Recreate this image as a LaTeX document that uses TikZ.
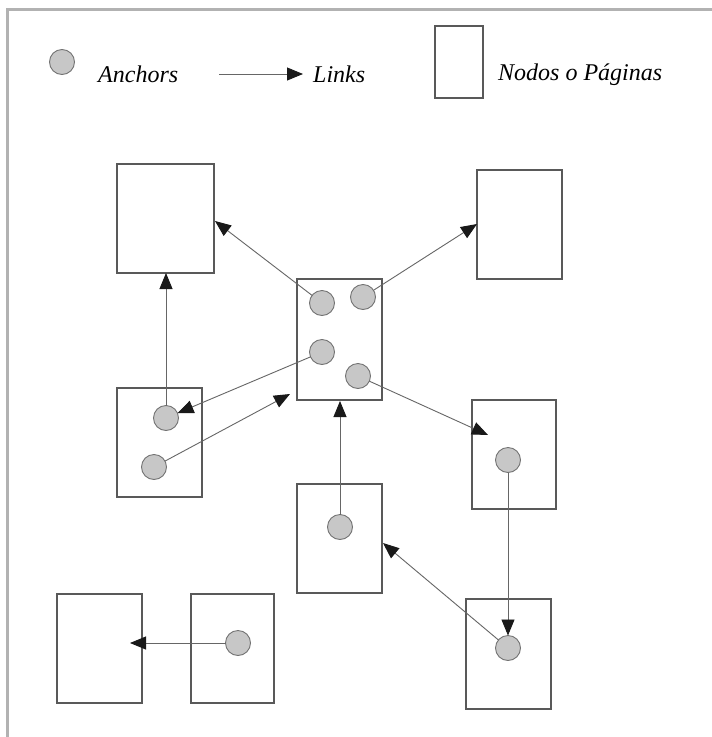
\documentclass[tikz,border=0pt]{standalone}
\usepackage{fontspec}
\setmainfont{Liberation Serif}
\usetikzlibrary{arrows.meta}
\begin{document}
\begin{tikzpicture}[x=1pt,y=-1pt,
  page/.style={draw=black!65, line width=1.1pt, fill=white, inner sep=0pt, outer sep=0pt},
  anc/.style={circle, draw=black!55, line width=0.9pt, fill=black!22, minimum size=25pt, inner sep=0pt, outer sep=0pt},
  lnk/.style={draw=black!60, line width=0.9pt, -{Triangle[length=16pt,width=13pt,color=black!90]}},
  lbl/.style={font=\itshape\fontsize{24}{28}\selectfont, anchor=base west, inner sep=0pt}]
\useasboundingbox (0,0) rectangle (712,737);
\fill[white] (0,0) rectangle (712,737);
% frame (top and left)
\draw[black!30, line width=3pt] (7,737) -- (7,9) -- (712,9);

% legend
\node[anc] (lganc) at (62,62) {};
\node[lbl] (lgt1) at (98,82) {Anchors};
\coordinate (lga) at (219,74);
\coordinate (lgb) at (303,74);
\draw[lnk] (lga) -- (lgb);
\node[lbl] (lgt2) at (313,82) {Links};
\node[page, minimum width=48pt, minimum height=72pt] (lgbox) at (459,62) {};
\node[lbl] (lgt3) at (498,80) {Nodos o Páginas};

% pages
\node[page, minimum width=97pt, minimum height=109pt] (tl) at (165.5,218.5) {};
\node[page, minimum width=85pt, minimum height=109pt] (tr) at (519.5,224.5) {};
\node[page, minimum width=85pt, minimum height=121pt] (ctr) at (339.5,339.5) {};
\node[page, minimum width=85pt, minimum height=109pt] (lm) at (159.5,442.5) {};
\node[page, minimum width=84pt, minimum height=109pt] (rm) at (514,454.5) {};
\node[page, minimum width=85pt, minimum height=109pt] (bc) at (339.5,538.5) {};
\node[page, minimum width=85pt, minimum height=110pt] (br) at (508.5,654) {};
\node[page, minimum width=85pt, minimum height=109pt] (bll) at (99.5,648.5) {};
\node[page, minimum width=83pt, minimum height=109pt] (blr) at (232.5,648.5) {};

% anchors
\node[anc] (c1) at (322,303) {};
\node[anc] (c2) at (363,297) {};
\node[anc] (c3) at (322,352) {};
\node[anc] (c4) at (358,376) {};
\node[anc] (l1) at (166,418) {};
\node[anc] (l2) at (154,467) {};
\node[anc] (r1) at (508,460) {};
\node[anc] (b1) at (340,527) {};
\node[anc] (r2) at (508,648) {};
\node[anc] (k1) at (238,643) {};

% link targets
\coordinate (ta) at (215,221);
\coordinate (tb) at (477,224);
\coordinate (tc) at (166,273);
\coordinate (te) at (290,394);
\coordinate (tf) at (488,435);
\coordinate (tg) at (340,401);
\coordinate (ti) at (383,543);
\coordinate (tj) at (130,643);

% links
\draw[lnk] (c1) -- (ta);
\draw[lnk] (c2) -- (tb);
\draw[lnk] (l1) -- (tc);
\draw[lnk] (c3) -- (l1);
\draw[lnk] (l2) -- (te);
\draw[lnk] (c4) -- (tf);
\draw[lnk] (b1) -- (tg);
\draw[lnk] (r1) -- (r2);
\draw[lnk] (r2) -- (ti);
\draw[lnk] (k1) -- (tj);
\end{tikzpicture}
\end{document}
